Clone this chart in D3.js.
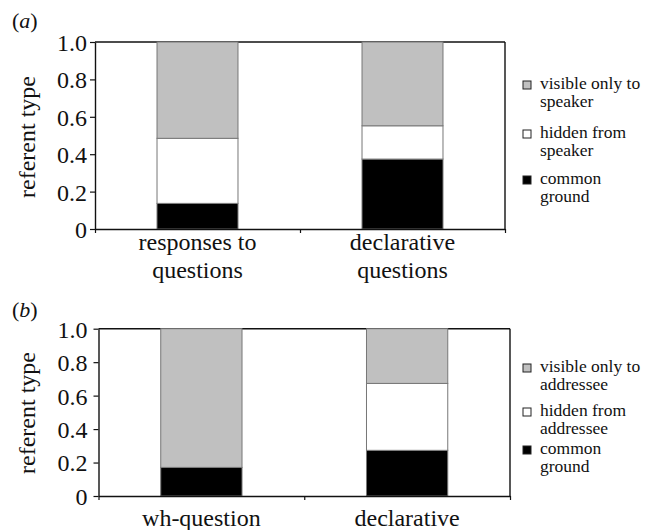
<!DOCTYPE html>
<html>
<head>
<meta charset="utf-8">
<script src="https://cdn.jsdelivr.net/npm/d3@7"></script>
</head>
<body style="margin:0">
<svg id="chart" width="658" height="530"></svg>
<script>
// ---- data ----
const categoriesA = [["responses to", "questions"], ["declarative", "questions"]];
const categoriesB = [["wh-question"], ["declarative"]];
const seriesKeys = ["common", "hidden", "visible"];
const commonA  = [0.137, 0.374];
const hiddenA  = [0.348, 0.178];
const visibleA = [0.515, 0.448];
const commonB  = [0.171, 0.273];
const hiddenB  = [0.000, 0.400];
const visibleB = [0.829, 0.327];
const legendA = [["visible only to", "speaker"], ["hidden from", "speaker"], ["common", "ground"]];
const legendB = [["visible only to", "addressee"], ["hidden from", "addressee"], ["common", "ground"]];
const yTicks = [0, 0.2, 0.4, 0.6, 0.8, 1.0];
const yTickLabels = ["0", "0.2", "0.4", "0.6", "0.8", "1.0"];
const yTitle = "referent type";

const FONT = '"Liberation Serif", serif';
const colors = { visible: "#c0c0c0", hidden: "#ffffff", common: "#000000" };
const legendOrder = ["visible", "hidden", "common"];

const svg = d3.select("#chart");

function txt(sel, size) {
  return sel.style("font-family", FONT).style("font-size", size + "px").attr("fill", "#111");
}

function panel(cfg) {
  const g = svg.append("g");
  const n = cfg.categories.length;
  const rows = cfg.categories.map((c, i) => ({
    idx: i,
    common: cfg.common[i], hidden: cfg.hidden[i], visible: cfg.visible[i]
  }));
  const x = d3.scaleBand().domain(d3.range(n))
    .range([cfg.left, cfg.right]).paddingInner(0.605).paddingOuter(0.3025);
  const xb = d3.scaleLinear().domain([0, n]).range([cfg.left, cfg.right]);
  const y = d3.scaleLinear().domain([0, 1]).range([cfg.bottom, cfg.top]);

  // frame top and right
  g.append("line").attr("x1", cfg.left).attr("x2", cfg.right)
    .attr("y1", y(1)).attr("y2", y(1)).attr("stroke", "#111").attr("stroke-width", 1.4);
  g.append("line").attr("x1", cfg.right).attr("x2", cfg.right)
    .attr("y1", y(1)).attr("y2", y(0)).attr("stroke", "#111").attr("stroke-width", 1.4);

  // stacked bars
  const stacked = d3.stack().keys(seriesKeys)(rows);
  stacked.forEach(s => {
    g.append("g").selectAll("rect").data(s).join("rect")
      .attr("x", d => x(d.data.idx))
      .attr("width", x.bandwidth())
      .attr("y", d => y(d[1]))
      .attr("height", d => y(d[0]) - y(d[1]))
      .attr("fill", colors[s.key])
      .attr("stroke", "#777")
      .attr("stroke-width", d => (d[1] - d[0]) > 0 ? 1 : 0);
  });

  // left axis
  const ya = d3.axisLeft(y).tickValues(yTicks)
    .tickFormat((d, i) => yTickLabels[i]).tickSize(5).tickSizeOuter(0).tickPadding(cfg.tickPad);
  const yg = g.append("g").attr("transform", `translate(${cfg.left},0)`).call(ya);
  yg.select(".domain").attr("stroke", "#111").attr("stroke-width", 1.4);
  yg.selectAll(".tick line").attr("stroke", "#111").attr("stroke-width", 1.2);
  txt(yg.selectAll(".tick text"), 24).attr("dy", "0.35em");

  // bottom axis, ticks at category boundaries
  const xa = d3.axisBottom(xb).tickValues(d3.range(n + 1)).tickFormat("").tickSize(4).tickSizeOuter(0);
  const xg = g.append("g").attr("transform", `translate(0,${cfg.bottom})`).call(xa);
  xg.select(".domain").attr("stroke", "#111").attr("stroke-width", 1.4);
  xg.selectAll(".tick line").attr("stroke", "#111").attr("stroke-width", 1.2);

  // category labels
  const labels = [];
  cfg.categories.forEach((lines, i) => {
    lines.forEach((ln, k) => labels.push({ t: ln, x: x(i) + x.bandwidth() / 2,
      y: cfg.bottom + cfg.labelOffset + k * 28 }));
  });
  txt(g.append("g").selectAll("text").data(labels).join("text"), 24)
    .attr("text-anchor", "middle").attr("x", d => d.x).attr("y", d => d.y).text(d => d.t);

  // y title
  txt(g.append("text"), 24).attr("text-anchor", "middle")
    .attr("transform", `translate(${cfg.titleX},${cfg.titleY}) rotate(-90)`)
    .text(yTitle);

  // panel letter
  const pl = txt(g.append("text"), 22).attr("x", cfg.letterX).attr("y", cfg.letterY);
  pl.append("tspan").text("(");
  pl.append("tspan").style("font-style", "italic").text(cfg.letter);
  pl.append("tspan").text(")");

  // legend
  const leg = [];
  legendOrder.forEach((key, i) => {
    const by = cfg.legendY[i];
    g.append("rect").attr("x", cfg.legendX).attr("y", by - 8).attr("width", 8).attr("height", 8)
      .attr("fill", colors[key]).attr("stroke", "#222").attr("stroke-width", 1);
    cfg.legend[i].forEach((ln, k) => leg.push({ t: ln, y: by + k * cfg.legendLine }));
  });
  txt(g.append("g").selectAll("text").data(leg).join("text"), 17.5)
    .attr("x", cfg.legendX + 17).attr("y", d => d.y).text(d => d.t);
}

panel({
  categories: categoriesA, common: commonA, hidden: hiddenA, visible: visibleA,
  left: 95, right: 505, top: 42, bottom: 229, tickPad: 3,
  labelOffset: 21, titleX: 35, titleY: 137,
  letter: "a", letterX: 12, letterY: 28,
  legend: legendA, legendX: 523, legendY: [89, 138, 184], legendLine: 18
});
panel({
  categories: categoriesB, common: commonB, hidden: hiddenB, visible: visibleB,
  left: 98.5, right: 510, top: 328.7, bottom: 496, tickPad: 6,
  labelOffset: 30, titleX: 35, titleY: 413,
  letter: "b", letterX: 12, letterY: 317,
  legend: legendB, legendX: 523, legendY: [372, 416, 454], legendLine: 18
});
</script>
</body>
</html>
